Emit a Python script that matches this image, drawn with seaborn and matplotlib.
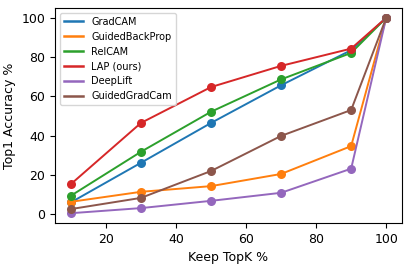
import matplotlib
matplotlib.use("Agg")
import matplotlib.pyplot as plt
import seaborn as sns
import pandas as pd

keep_topk = [10, 30, 50, 70, 90, 100]
gradcam = [5.9, 26.1, 46.4, 65.6, 83.5, 100]
guided_backprop = [6.2, 11.3, 14.2, 20.4, 34.6, 100]
relcam = [9.3, 31.7, 52.1, 68.6, 82.1, 100]
lap = [15.2, 46.4, 64.7, 75.5, 84.3, 100]
deeplift = [0.4, 3.0, 6.7, 10.8, 23.1, 100]
guided_gradcam = [2.5, 8.2, 21.9, 39.8, 53.0, 100]

methods = ["GradCAM", "GuidedBackProp", "RelCAM", "LAP (ours)", "DeepLift", "GuidedGradCam"]
series = [gradcam, guided_backprop, relcam, lap, deeplift, guided_gradcam]

rows = []
for m, vals in zip(methods, series):
    for x, y in zip(keep_topk, vals):
        rows.append({"Keep TopK %": x, "Top1 Accuracy %": y, "Method": m})
df = pd.DataFrame(rows)

plt.rcParams["font.family"] = ["DejaVu Sans"]
fig, ax = plt.subplots(figsize=(4.11, 2.68), dpi=100)
fig.subplots_adjust(left=0.134, right=0.978, bottom=0.168, top=0.970)

palette = ["#1f77b4", "#ff7f0e", "#2ca02c", "#d62728", "#9467bd", "#8c564b"]
sns.lineplot(data=df, x="Keep TopK %", y="Top1 Accuracy %", hue="Method",
             hue_order=methods, palette=palette, marker="o", markersize=6.5,
             markeredgewidth=0, linewidth=1.4, ax=ax)

ax.set_xlabel("Keep TopK %", fontsize=9)
ax.set_ylabel("Top1 Accuracy %", fontsize=9)
ax.tick_params(labelsize=9)
ax.set_xticks([20, 40, 60, 80, 100])
ax.set_yticks([0, 20, 40, 60, 80, 100])
leg = ax.legend(title=None, loc="upper left", fontsize=7)
for h in leg.legend_handles:
    h.set_marker("")
    h.set_linewidth(1.8)
fig.savefig("out.png", dpi=100)
